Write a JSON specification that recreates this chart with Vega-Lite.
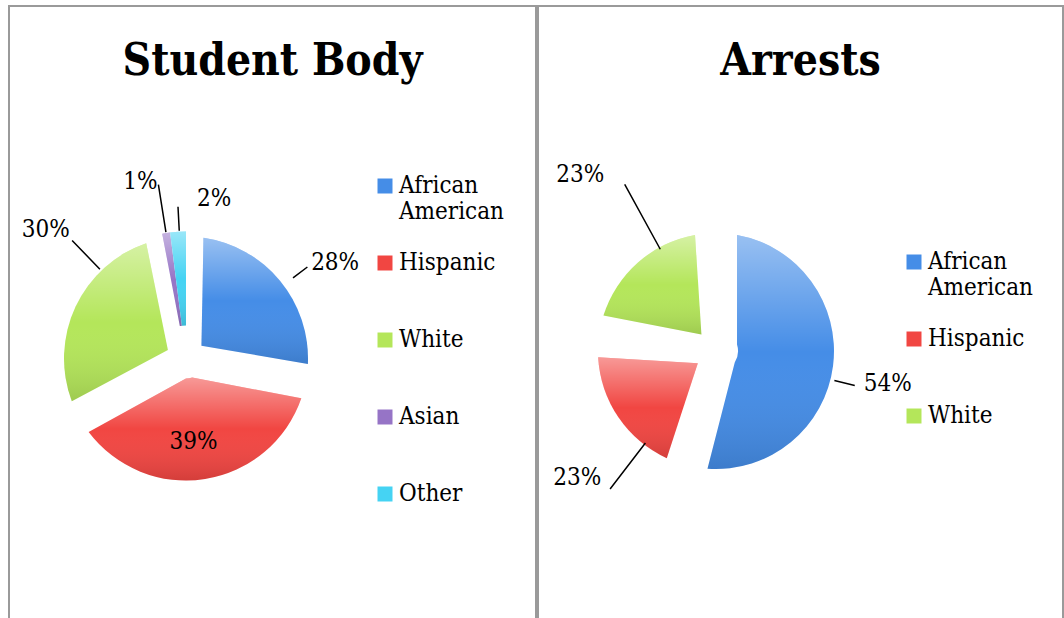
{
  "$schema": "https://vega.github.io/schema/vega-lite/v6.json",
  "padding": {"left": 8, "top": 5, "right": 0, "bottom": 0},
  "background": "white",
  "spacing": 0,
  "config": {
    "view": {"stroke": "#9a9a9a", "strokeWidth": 2},
    "font": "DejaVu Serif Condensed",
    "title": {"font": "DejaVu Serif Condensed", "fontWeight": "bold", "fontSize": 44, "color": "black", "anchor": "middle", "baseline": "alphabetic", "offset": -78},
    "legend": {"title": null, "orient": "none", "symbolType": "square", "symbolSize": 225, "symbolStrokeWidth": 0, "labelFont": "DejaVu Serif Condensed", "labelFontSize": 24, "labelColor": "black", "labelOffset": 2, "rowPadding": 27, "gridAlign": "all", "labelLimit": 0, "padding": 0},
    "text": {"font": "DejaVu Serif Condensed", "fontSize": 24, "color": "black"}
  },
  "datasets": {
    "student": [
      {"race": "African American", "value": 0.28},
      {"race": "Hispanic", "value": 0.39},
      {"race": "White", "value": 0.30},
      {"race": "Asian", "value": 0.01},
      {"race": "Other", "value": 0.02}
    ],
    "arrests": [
      {"race": "African American", "value": 0.54},
      {"race": "Hispanic", "value": 0.23},
      {"race": "White", "value": 0.23}
    ]
  },
  "resolve": {"scale": {"color": "independent", "theta": "independent"}, "legend": {"color": "independent"}},
  "hconcat": [
    {
      "width": 527,
      "height": 620,
      "view": {"stroke": "#9a9a9a", "strokeWidth": 2},
      "title": {"text": "Student Body"},
      "data": {"name": "student"},
      "transform": [{"stack": "value", "groupby": [], "as": ["v0", "v1"]}],
      "layer": [
        {
          "transform": [{"filter": "datum.value >= 0.05"}],
          "mark": {"type": "arc", "x": 177, "y": 352.5, "outerRadius": 122, "innerRadius": 20, "padAngle": 0.284},
          "encoding": {
            "theta": {"field": "v0", "type": "quantitative", "scale": {"domain": [0, 1]}},
            "theta2": {"field": "v1"},
            "color": {
              "field": "race", "type": "nominal",
              "scale": {"domain": ["African American", "Hispanic", "White", "Asian", "Other"], "range": ["#458DE7", "#F14642", "#B4E65A", "#9674C6", "#45D3F3"]},
              "legend": {"legendX": 364, "legendY": 168, "labelExpr": "datum.label == 'African American' ? ['African', 'American'] : datum.label"}
            }
          }
        },
        {
          "transform": [{"filter": "datum.value >= 0.05"}],
          "mark": {"type": "arc", "x": 177, "y": 352.5, "outerRadius": 122, "innerRadius": 20, "padAngle": 0.284,
            "color": {"gradient": "linear", "x1": 0, "y1": 0, "x2": 0, "y2": 1, "stops": [{"offset": 0, "color": "rgba(255,255,255,0.45)"}, {"offset": 0.5, "color": "rgba(255,255,255,0)"}, {"offset": 1, "color": "rgba(0,0,0,0.12)"}]}},
          "encoding": {
            "theta": {"field": "v0", "type": "quantitative", "scale": {"domain": [0, 1]}},
            "theta2": {"field": "v1"}
          }
        },
        {
          "transform": [{"filter": "datum.value < 0.05"}],
          "mark": {"type": "arc", "x": 177, "y": 352.5, "outerRadius": 127, "innerRadius": 33},
          "encoding": {
            "theta": {"field": "v0", "type": "quantitative", "scale": {"domain": [0, 1]}},
            "theta2": {"field": "v1"},
            "color": {"field": "race", "type": "nominal"}
          }
        },
        {
          "transform": [{"filter": "datum.value < 0.05"}],
          "mark": {"type": "arc", "x": 177, "y": 352.5, "outerRadius": 127, "innerRadius": 33,
            "color": {"gradient": "linear", "x1": 0, "y1": 0, "x2": 0, "y2": 1, "stops": [{"offset": 0, "color": "rgba(255,255,255,0.45)"}, {"offset": 0.5, "color": "rgba(255,255,255,0)"}, {"offset": 1, "color": "rgba(0,0,0,0.12)"}]}},
          "encoding": {
            "theta": {"field": "v0", "type": "quantitative", "scale": {"domain": [0, 1]}},
            "theta2": {"field": "v1"}
          }
        },
        {
          "transform": [{"filter": "datum.race == 'African American'"}],
          "mark": {"type": "arc", "x": 177, "y": 352.5, "innerRadius": 134, "outerRadius": 152, "thetaOffset": 0.925, "theta2Offset": 0.925, "filled": false, "stroke": "black", "strokeWidth": 1.5},
          "encoding": {"theta": {"field": "v0", "type": "quantitative", "scale": {"domain": [0, 1]}}, "theta2": {"field": "v0"}}
        },
        {
          "transform": [{"filter": "datum.race == 'White'"}],
          "mark": {"type": "arc", "x": 177, "y": 352.5, "innerRadius": 124, "outerRadius": 164, "thetaOffset": 1.306, "theta2Offset": 1.306, "filled": false, "stroke": "black", "strokeWidth": 1.5},
          "encoding": {"theta": {"field": "v0", "type": "quantitative", "scale": {"domain": [0, 1]}}, "theta2": {"field": "v0"}}
        },
        {
          "transform": [{"filter": "datum.race == 'Asian'"}],
          "mark": {"type": "arc", "x": 177, "y": 352.5, "innerRadius": 128, "outerRadius": 176, "thetaOffset": 0.031, "theta2Offset": 0.031, "filled": false, "stroke": "black", "strokeWidth": 1.5},
          "encoding": {"theta": {"field": "v0", "type": "quantitative", "scale": {"domain": [0, 1]}}, "theta2": {"field": "v0"}}
        },
        {
          "transform": [{"filter": "datum.race == 'Other'"}],
          "mark": {"type": "arc", "x": 177, "y": 352.5, "innerRadius": 128, "outerRadius": 152, "thetaOffset": 0.073, "theta2Offset": 0.073, "filled": false, "stroke": "black", "strokeWidth": 1.5},
          "encoding": {"theta": {"field": "v0", "type": "quantitative", "scale": {"domain": [0, 1]}}, "theta2": {"field": "v0"}}
        },
        {
          "transform": [{"filter": "datum.race == 'African American'"}],
          "mark": {"type": "text", "x": 177, "y": 352.5, "radius": 177, "thetaOffset": 1.002},
          "encoding": {"theta": {"field": "v0", "type": "quantitative", "scale": {"domain": [0, 1]}}, "text": {"field": "value", "format": ".0%"}}
        },
        {
          "transform": [{"filter": "datum.race == 'Hispanic'"}],
          "mark": {"type": "text", "x": 177, "y": 352.5, "radius": 84, "thetaOffset": 1.293},
          "encoding": {"theta": {"field": "v0", "type": "quantitative", "scale": {"domain": [0, 1]}}, "text": {"field": "value", "format": ".0%"}}
        },
        {
          "transform": [{"filter": "datum.race == 'White'"}],
          "mark": {"type": "text", "x": 177, "y": 352.5, "radius": 190, "thetaOffset": 1.243},
          "encoding": {"theta": {"field": "v0", "type": "quantitative", "scale": {"domain": [0, 1]}}, "text": {"field": "value", "format": ".0%"}}
        },
        {
          "transform": [{"filter": "datum.race == 'Asian'"}],
          "mark": {"type": "text", "x": 177, "y": 352.5, "radius": 182, "thetaOffset": -0.065},
          "encoding": {"theta": {"field": "v0", "type": "quantitative", "scale": {"domain": [0, 1]}}, "text": {"field": "value", "format": ".0%"}}
        },
        {
          "transform": [{"filter": "datum.race == 'Other'"}],
          "mark": {"type": "text", "x": 177, "y": 352.5, "radius": 162, "thetaOffset": 0.300},
          "encoding": {"theta": {"field": "v0", "type": "quantitative", "scale": {"domain": [0, 1]}}, "text": {"field": "value", "format": ".0%"}}
        }
      ]
    },
    {
      "width": 525,
      "height": 620,
      "view": {"stroke": "#9a9a9a", "strokeWidth": 2},
      "title": {"text": "Arrests"},
      "data": {"name": "arrests"},
      "transform": [{"stack": "value", "groupby": [], "as": ["v0", "v1"]}],
      "layer": [
        {
          "mark": {"type": "arc", "x": 178, "y": 345, "outerRadius": 118, "innerRadius": 22, "padAngle": 0.352},
          "encoding": {
            "theta": {"field": "v0", "type": "quantitative", "scale": {"domain": [0, 1]}},
            "theta2": {"field": "v1"},
            "color": {
              "field": "race", "type": "nominal",
              "scale": {"domain": ["African American", "Hispanic", "White"], "range": ["#458DE7", "#F14642", "#B4E65A"]},
              "legend": {"legendX": 364, "legendY": 244, "labelExpr": "datum.label == 'African American' ? ['African', 'American'] : datum.label"}
            }
          }
        },
        {
          "mark": {"type": "arc", "x": 178, "y": 345, "outerRadius": 118, "innerRadius": 22, "padAngle": 0.352,
            "color": {"gradient": "linear", "x1": 0, "y1": 0, "x2": 0, "y2": 1, "stops": [{"offset": 0, "color": "rgba(255,255,255,0.45)"}, {"offset": 0.5, "color": "rgba(255,255,255,0)"}, {"offset": 1, "color": "rgba(0,0,0,0.12)"}]}},
          "encoding": {
            "theta": {"field": "v0", "type": "quantitative", "scale": {"domain": [0, 1]}},
            "theta2": {"field": "v1"}
          }
        },
        {
          "transform": [{"filter": "datum.race == 'African American'"}],
          "mark": {"type": "arc", "x": 178, "y": 345, "innerRadius": 122, "outerRadius": 143, "thetaOffset": 1.815, "theta2Offset": 1.815, "filled": false, "stroke": "black", "strokeWidth": 1.5},
          "encoding": {"theta": {"field": "v0", "type": "quantitative", "scale": {"domain": [0, 1]}}, "theta2": {"field": "v0"}}
        },
        {
          "transform": [{"filter": "datum.race == 'Hispanic'"}],
          "mark": {"type": "arc", "x": 178, "y": 345, "innerRadius": 116, "outerRadius": 174, "thetaOffset": 0.403, "theta2Offset": 0.403, "filled": false, "stroke": "black", "strokeWidth": 1.5},
          "encoding": {"theta": {"field": "v0", "type": "quantitative", "scale": {"domain": [0, 1]}}, "theta2": {"field": "v0"}}
        },
        {
          "transform": [{"filter": "datum.race == 'White'"}],
          "mark": {"type": "arc", "x": 178, "y": 345, "innerRadius": 116, "outerRadius": 190, "thetaOffset": 0.944, "theta2Offset": 0.944, "filled": false, "stroke": "black", "strokeWidth": 1.5},
          "encoding": {"theta": {"field": "v0", "type": "quantitative", "scale": {"domain": [0, 1]}}, "theta2": {"field": "v0"}}
        },
        {
          "transform": [{"filter": "datum.race == 'African American'"}],
          "mark": {"type": "text", "x": 178, "y": 345, "radius": 175, "thetaOffset": 1.761},
          "encoding": {"theta": {"field": "v0", "type": "quantitative", "scale": {"domain": [0, 1]}}, "text": {"field": "value", "format": ".0%"}}
        },
        {
          "transform": [{"filter": "datum.race == 'Hispanic'"}],
          "mark": {"type": "text", "x": 178, "y": 345, "radius": 188, "thetaOffset": 0.579},
          "encoding": {"theta": {"field": "v0", "type": "quantitative", "scale": {"domain": [0, 1]}}, "text": {"field": "value", "format": ".0%"}}
        },
        {
          "transform": [{"filter": "datum.race == 'White'"}],
          "mark": {"type": "text", "x": 178, "y": 345, "radius": 222, "thetaOffset": 0.787},
          "encoding": {"theta": {"field": "v0", "type": "quantitative", "scale": {"domain": [0, 1]}}, "text": {"field": "value", "format": ".0%"}}
        }
      ]
    }
  ]
}
